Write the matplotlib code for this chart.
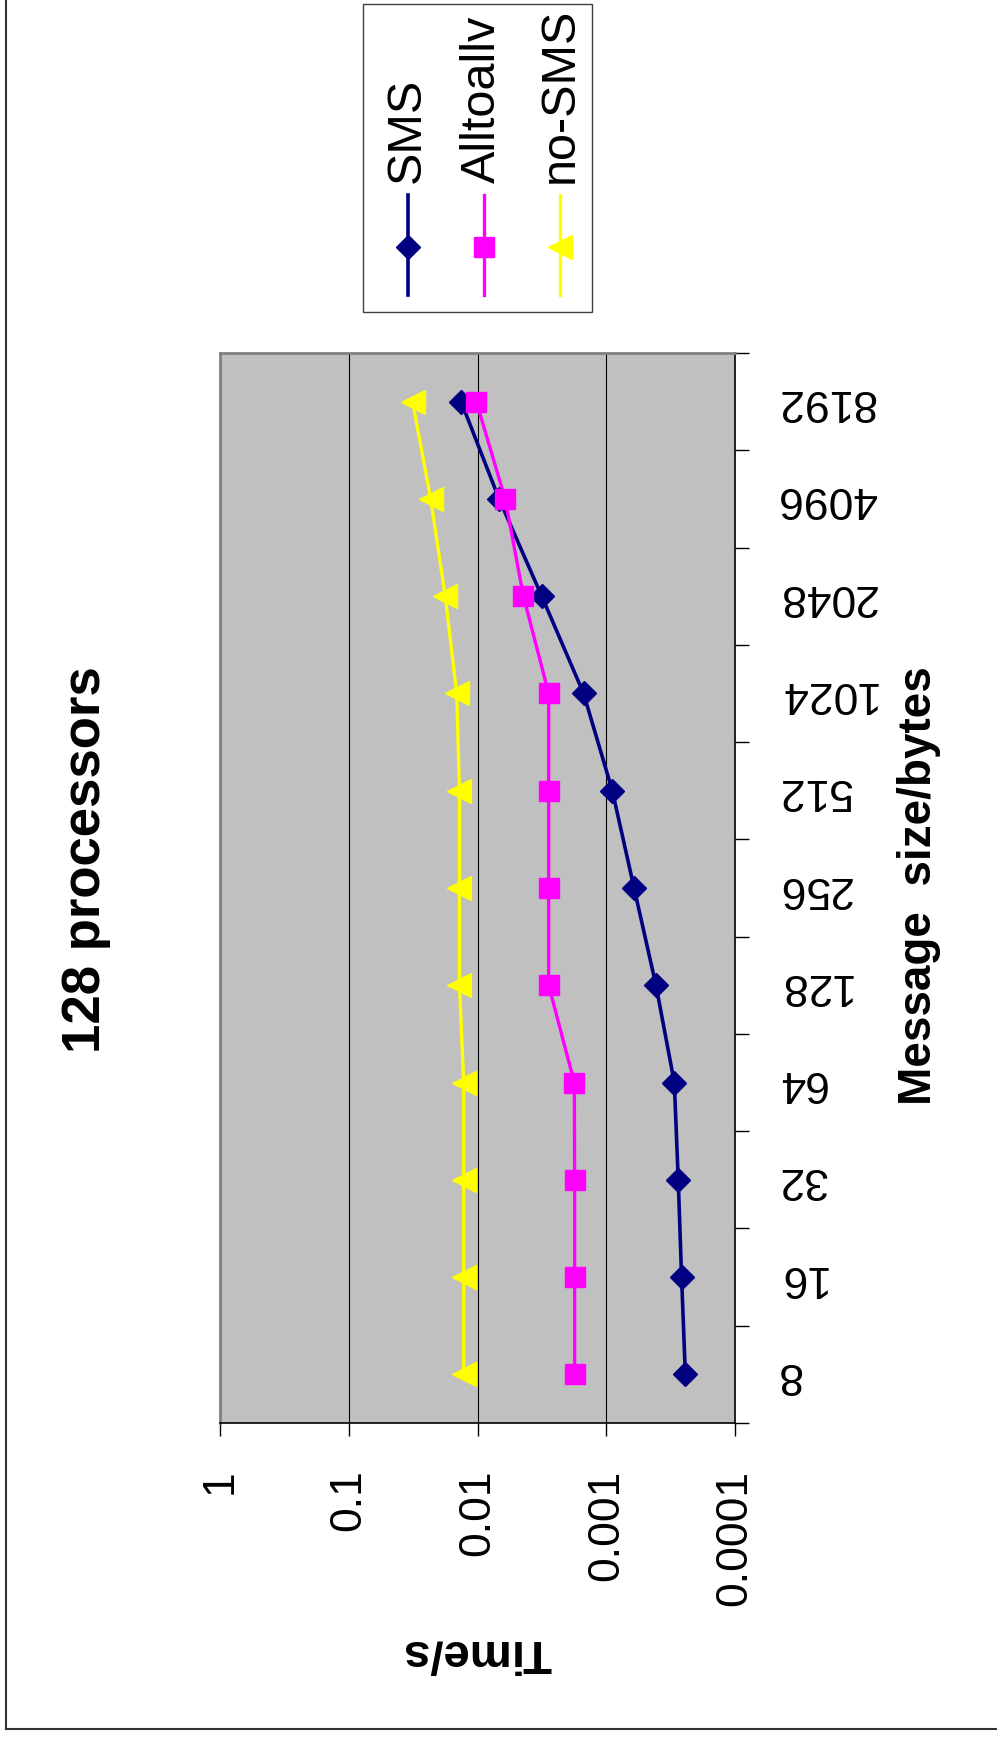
import matplotlib
matplotlib.use('Agg')
import matplotlib.pyplot as plt
import numpy as np
from matplotlib.lines import Line2D
from matplotlib.patches import Rectangle
from matplotlib.ticker import NullLocator, NullFormatter

plt.rcParams['font.family'] = ['Liberation Sans', 'DejaVu Sans']

# ---------------- data ----------------
categories = ['8', '16', '32', '64', '128', '256', '512', '1024', '2048', '4096', '8192']
sms = [2.43e-4, 2.60e-4, 2.76e-4, 2.96e-4, 4.11e-4, 6.08e-4, 8.97e-4, 1.50e-3, 3.17e-3, 6.8e-3, 1.34e-2]
alltoallv = [1.76e-3, 1.76e-3, 1.76e-3, 1.77e-3, 2.80e-3, 2.80e-3, 2.80e-3, 2.80e-3, 4.4e-3, 6.1e-3, 1.02e-2]
nosms = [1.28e-2, 1.28e-2, 1.28e-2, 1.28e-2, 1.38e-2, 1.38e-2, 1.38e-2, 1.45e-2, 1.78e-2, 2.31e-2, 3.19e-2]
series_names = ['SMS', 'Alltoallv', 'no-SMS']
value_ticks = [1, 0.1, 0.01, 0.001, 0.0001]
value_tick_labels = ['1', '0.1', '0.01', '0.001', '0.0001']
title = '128 processors'
value_label = 'Time/s'
category_label = 'Message  size/bytes'

# ---------------- styles ----------------
colors = ['#000080', '#FF00FF', '#FFFF00']
markers = ['D', 's', '<']
msizes = [12, 14, 17]
lwidths = [2.6, 2.4, 2.4]

W, H = 997, 1742
fig = plt.figure(figsize=(W / 100, H / 100), dpi=100)
fig.patch.set_facecolor('white')


def fx(x):
    return x / W


def fy(y):
    return 1 - y / H


ax = fig.add_axes([fx(220), fy(1423), (735 - 220) / W, (1423 - 353) / H])
ax.set_facecolor('#C0C0C0')

ypos = np.arange(len(categories))
for vals, c, m, ms, lw in zip([sms, alltoallv, nosms], colors, markers, msizes, lwidths):
    ax.plot(vals, ypos, color=c, lw=lw, marker=m, markersize=ms,
            markerfacecolor=c, markeredgecolor=c, markeredgewidth=1, zorder=3)

ax.set_xscale('log')
ax.set_xlim(1, 1e-4)
ax.set_ylim(-0.5, len(categories) - 0.5)

ax.set_xticks(value_ticks, labels=value_tick_labels)
ax.xaxis.set_minor_locator(NullLocator())
ax.tick_params(axis='x', which='major', direction='out', length=9.5, width=1,
               labelsize=32, labelrotation=90, pad=24, color='black')
ax.grid(axis='x', which='major', color='black', lw=0.8)

ax.set_yticks(np.arange(-0.5, len(categories)))
ax.yaxis.set_major_formatter(NullFormatter())
ax.set_yticks(ypos, labels=categories, minor=True)
ax.yaxis.tick_right()
ax.tick_params(axis='y', which='major', direction='out', length=10, width=1,
               right=True, left=False, labelright=False, labelleft=False)
ax.tick_params(axis='y', which='minor', length=0, right=True, left=False,
               labelright=True, labelleft=False, labelsize=32, pad=30)
for lab in ax.yaxis.get_minorticklabels():
    lab.set_rotation(180)
    lab.set_va('center')
    lab.set_ha('left')

for s in ['left', 'top']:
    ax.spines[s].set_color('#808080')
    ax.spines[s].set_linewidth(2)
for s in ['bottom', 'right']:
    ax.spines[s].set_color('black')
    ax.spines[s].set_linewidth(1.2)

# titles / axis labels
fig.text(fx(100), fy(860), title, rotation=90, rotation_mode='anchor',
         ha='center', va='baseline', fontsize=38, fontweight='bold')
fig.text(fx(477), fy(1640), value_label, rotation=180, rotation_mode='anchor',
         ha='center', va='baseline', fontsize=34, fontweight='bold')
fig.text(fx(931), fy(886), category_label, rotation=90, rotation_mode='anchor',
         ha='center', va='baseline', fontsize=33, fontweight='bold')

# legend (drawn rotated like the reference)
fig.add_artist(Rectangle((fx(363), fy(312)), (592 - 363) / W, (312 - 4) / H,
                         transform=fig.transFigure, facecolor='white',
                         edgecolor='#404040', lw=1, zorder=1))
line_x = [408, 484, 560]
text_x = [420, 495, 573]
for name, c, m, ms, lw, lx, tx in zip(series_names, colors, markers, msizes, lwidths, line_x, text_x):
    fig.add_artist(Line2D([fx(lx), fx(lx)], [fy(195), fy(295)], transform=fig.transFigure,
                          color=c, lw=lw, zorder=2))
    fig.add_artist(Line2D([fx(lx)], [fy(247)], transform=fig.transFigure, color=c,
                          marker=m, markersize=ms, markerfacecolor=c,
                          markeredgecolor=c, markeredgewidth=1, lw=0, zorder=3))
    fig.text(fx(tx), fy(183), name, rotation=90, rotation_mode='anchor',
             ha='left', va='baseline', fontsize=35, zorder=4)

# outer frame (left and bottom visible)
fig.add_artist(Line2D([fx(6), fx(6)], [fy(0), fy(1729)], transform=fig.transFigure,
                      color='#333333', lw=1.5))
fig.add_artist(Line2D([fx(6), fx(997)], [fy(1729), fy(1729)], transform=fig.transFigure,
                      color='#333333', lw=1.5))

fig.savefig('out.png', dpi=100, facecolor='white')
